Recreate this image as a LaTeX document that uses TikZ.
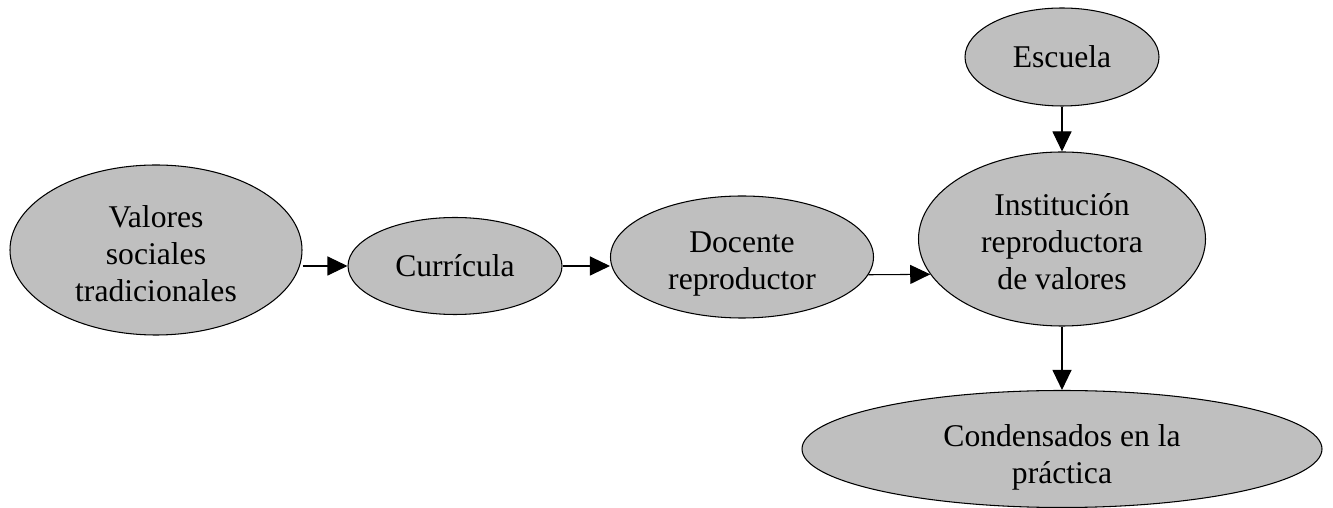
\documentclass[tikz,border=0pt]{standalone}
\usepackage{fontspec}
\setmainfont{Liberation Serif}
\usetikzlibrary{shapes.geometric,arrows.meta}
\begin{document}
\begin{tikzpicture}[
    elipse/.style={ellipse, draw, line width=0.6pt, fill=black!25, inner sep=0pt, align=center, font=\fontsize{18}{21}\selectfont},
    flecha/.style={-{Triangle[length=0.4cm, width=0.38cm]}, line width=0.6pt}
  ]
            \useasboundingbox (0, 0) rectangle (26.66, 10.16);
            \node [elipse, minimum width=5.84cm, minimum height=3.4cm, text height=2.07cm] (valores) at (3.12, 5.16) {Valores\\sociales\\tradicionales};
            \node [elipse, minimum width=4.28cm, minimum height=1.94cm] (curricula) at (9.1, 4.84) {Currícula};
            \node [elipse, minimum width=5.26cm, minimum height=2.44cm, text height=1.43cm] (docente) at (14.84, 5.02) {Docente\\reproductor};
            \node [elipse, minimum width=3.88cm, minimum height=1.96cm] (escuela) at (21.24, 9.02) {Escuela};
            \node [elipse, minimum width=5.74cm, minimum height=3.48cm, text height=2.03cm] (institucion) at (21.24, 5.38) {Institución\\reproductora\\de valores};
            \node [elipse, minimum width=10.4cm, minimum height=2.24cm, text height=1.52cm] (condensados) at (21.24, 1.18) {Condensados en la\\práctica};
            \draw [flecha] (valores.east |- curricula.west) -- (curricula.west);
            \draw [flecha] (curricula.east) -- (curricula.east -| docente.west);
            \draw [flecha] (docente.-8) -- (institucion.195);
            \draw [flecha] (escuela.south) -- (institucion.north);
            \draw [flecha] (institucion.south) -- (condensados.north);
\end{tikzpicture}
\end{document}
